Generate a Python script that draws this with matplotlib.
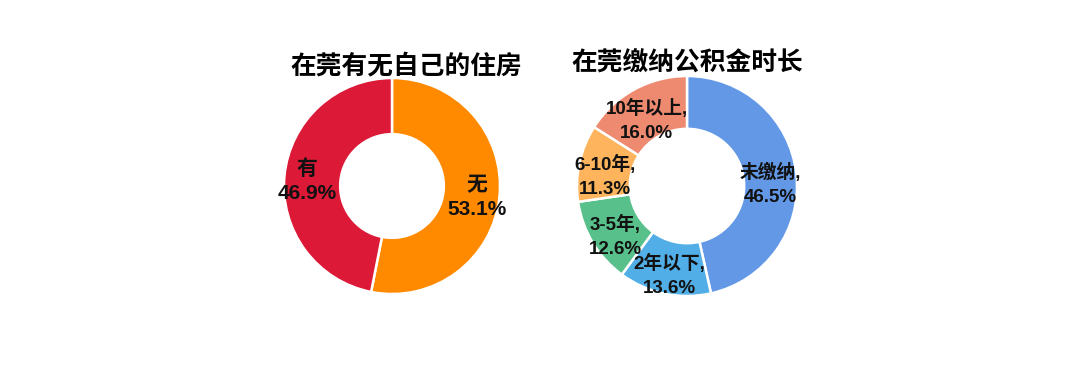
import numpy as np
import matplotlib
matplotlib.use("Agg")
import matplotlib.pyplot as plt

plt.rcParams['font.family'] = ['Liberation Sans', 'Noto Sans CJK SC', 'DejaVu Sans']
plt.rcParams['font.weight'] = 'bold'

# left donut: own housing
house_title = "在莞有无自己的住房"
house_labels = ["无", "有"]
house_values = [53.1, 46.9]
house_colors = ["#FF8A00", "#DC1A38"]

# right donut: housing fund years
fund_title = "在莞缴纳公积金时长"
fund_labels = ["未缴纳,", "2年以下,", "3-5年,", "6-10年,", "10年以上,"]
fund_values = [46.5, 13.6, 12.6, 11.3, 16.0]
fund_colors = ["#6298E6", "#52AEE6", "#58C08A", "#FDB45C", "#EE8A70"]


def donut(ax, values, labels, colors, title, width, label_r, fs, ls, dy=0.0, title_x=0.5):
    wedges, _ = ax.pie(values, colors=colors, startangle=90, counterclock=False,
                       radius=1.0,
                       wedgeprops=dict(width=width, edgecolor='white', linewidth=1.8))
    for w, lab, v in zip(wedges, labels, values):
        ang = np.deg2rad((w.theta1 + w.theta2) / 2)
        x, y = label_r * np.cos(ang), label_r * np.sin(ang) + dy
        ax.text(x, y, f"{lab}\n{v:.1f}%", ha='center', va='center',
                fontsize=fs, fontweight='bold', color='#111111', linespacing=ls)
    ax.set_xlim(-1, 1)
    ax.set_ylim(-1, 1)
    ax.set_title(title, fontsize=18.5, fontweight='bold', pad=3, x=title_x)


fig = plt.figure(figsize=(10.8, 3.66), dpi=100)

# left axes: center (392,186), radius 108 px
r1 = 108
ax1 = fig.add_axes([(392 - r1) / 1080, (366 - 186 - r1) / 366, 2 * r1 / 1080, 2 * r1 / 366])
donut(ax1, house_values, house_labels, house_colors, house_title, 0.52, 0.79, 15, 1.3,
      dy=-0.03, title_x=0.565)

# right axes: center (687,186), radius 110 px
r2 = 110
ax2 = fig.add_axes([(687 - r2) / 1080, (366 - 186 - r2) / 366, 2 * r2 / 1080, 2 * r2 / 366])
donut(ax2, fund_values, fund_labels, fund_colors, fund_title, 0.48, 0.76, 13.5, 1.55,
      dy=-0.07)

fig.savefig("out.png", dpi=100, facecolor='white')
